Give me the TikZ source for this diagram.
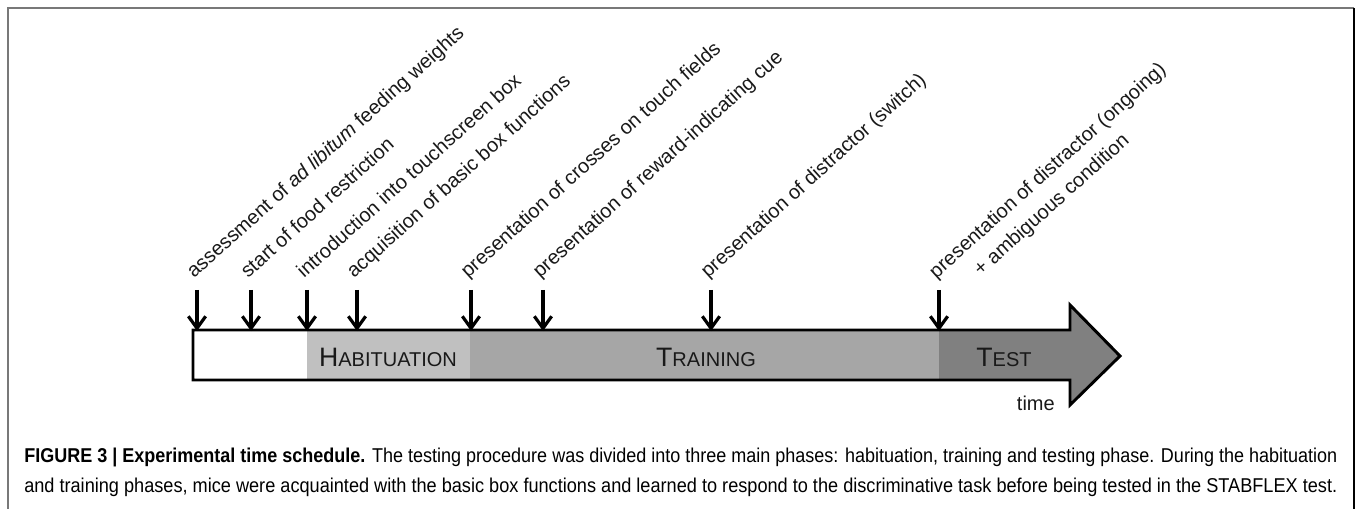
\documentclass[tikz,border=0pt]{standalone}
\usepackage{fontspec}
\setmainfont{Liberation Sans}
\usepackage{graphicx}
\usetikzlibrary{arrows.meta}
\definecolor{habcol}{RGB}{192,192,192}
\definecolor{traincol}{RGB}{166,166,166}
\definecolor{testcol}{RGB}{128,128,128}
\definecolor{framegray}{RGB}{120,120,120}
\definecolor{textdark}{RGB}{25,25,25}
\newcommand\phasecaps[2]{{\fontsize{20}{22}\selectfont #1}{\fontsize{15}{17}\selectfont #2}}
\tikzset{
  evlabel/.style={anchor=base west, inner sep=0pt, rotate=42, align=left,
    text=textdark, font=\fontsize{15}{21}\selectfont},
  evarrow/.style={line width=2.4pt, -{Straight Barb[length=9pt,width=13pt]}},
  phaselabel/.style={anchor=base, inner sep=0pt, text=textdark},
  captionline/.style={anchor=base west, inner sep=0pt},
  barline/.style={line width=2.2pt, line join=miter}
}
\begin{document}
\begin{tikzpicture}[x=0.75pt, y=-0.75pt]
\useasboundingbox (0,0) rectangle (1355,509);
% frame
\draw[framegray, line width=1.5pt] (8,509) -- (8,8) -- (1354,8);
\draw[black, line width=1.2pt] (1354,8) -- (1354,509);
% bar fills
\fill[white] (193,330) rectangle (307,380);
\fill[habcol] (307,330) rectangle (470,380);
\fill[traincol] (470,330) rectangle (939,380);
\fill[testcol] (939,330) -- (1070,330) -- (1070,305) -- (1120,356) -- (1070,405) -- (1070,380) -- (939,380) -- cycle;
\draw[barline] (193,330) -- (1070,330) -- (1070,305) -- (1120,356) -- (1070,405) -- (1070,380) -- (193,380) -- cycle;
% phase labels
\node[phaselabel] (hab) at (388,366) {\phasecaps{H}{ABITUATION}};
\node[phaselabel] (train) at (706,366) {\phasecaps{T}{RAINING}};
\node[phaselabel] (test) at (1004,366) {\phasecaps{T}{EST}};
\node[anchor=base east, inner sep=0pt, text=textdark, font=\fontsize{15}{18}\selectfont] (time) at (1055,410) {time};
% event arrows
\foreach \n/\x in {a/197,b/251,c/307,d/357,e/471,f/543,g/711,h/939}{
  \coordinate (top\n) at (\x,290);
  \coordinate (tip\n) at (\x,331);
  \draw[evarrow] (top\n) -- (tip\n);
}
% event labels
\node[evlabel] (la) at (194,279) {assessment of \textit{ad libitum} feeding weights};
\node[evlabel] (lb) at (248,279) {start of food restriction};
\node[evlabel] (lc) at (304,279) {introduction into touchscreen box};
\node[evlabel] (ld) at (354,279) {acquisition of basic box functions};
\node[evlabel] (le) at (468,279) {presentation of crosses on touch fields};
\node[evlabel] (lf) at (540,279) {presentation of reward-indicating cue};
\node[evlabel] (lg) at (708,279) {presentation of distractor (switch)};
\node[evlabel] (lh) at (955,300) {presentation of distractor (ongoing)\\\hspace*{26pt}+ ambiguous condition};
% caption
\node[captionline] (cap1) at (24,462) {\resizebox{984.75pt}{\height}{\fontsize{15}{17}\selectfont\textbf{FIGURE 3 | Experimental time schedule.} The testing procedure was divided into three main phases: habituation, training and testing phase. During the habituation}};
\node[captionline] (cap2) at (24,492) {\resizebox{984.75pt}{\height}{\fontsize{15}{17}\selectfont and training phases, mice were acquainted with the basic box functions and learned to respond to the discriminative task before being tested in the STABFLEX test.}};
\end{tikzpicture}
\end{document}
